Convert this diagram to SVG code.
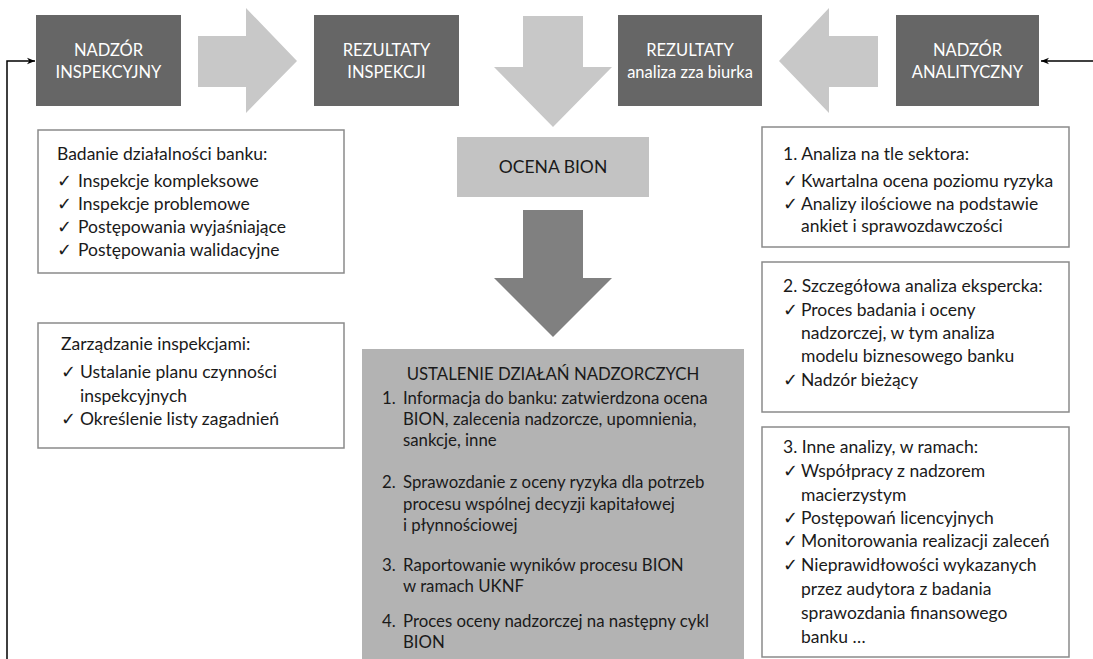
<svg xmlns="http://www.w3.org/2000/svg" width="1093" height="659" viewBox="0 0 1093 659">
<style>
text{font-family:Lato,"Liberation Sans",sans-serif;font-size:17.5px;fill:#1a1a1a}
.top{fill:#666666}
.tt{fill:#ffffff;text-anchor:middle;font-size:16.5px}
.lt{fill:#c8c8c8}
.box{fill:#ffffff;stroke:#8a8a8a;stroke-width:1.5}
.c{text-anchor:middle}
.bt{font-size:16.8px}
.conn{fill:none;stroke:#000;stroke-width:1.5}
</style>
<defs>
<marker id="ah" viewBox="0 0 10 10" refX="10" refY="5" markerWidth="8" markerHeight="8" markerUnits="userSpaceOnUse" orient="auto">
<path d="M0,1 L10,5 L0,9 L3,5 Z" fill="#000"/>
</marker>
</defs>

<g id="arrows">
<polygon class="lt" points="198,36 246,36 246,8 297,61 246,113 246,87 198,87"/>
<polygon class="lt" points="523,16 583,16 583,67 612,67 553,127 494,67 523,67"/>
<polygon class="lt" points="878,36 829,36 829,8 779,61 829,113 829,87 878,87"/>
<polygon fill="#808080" points="523,210 583,210 583,278 612,278 553,337 494,278 523,278"/>
</g>

<g id="connectors">
<polyline class="conn" points="7,659 7,61 35,61" marker-end="url(#ah)"/>
<line class="conn" x1="1093" y1="61" x2="1041" y2="61" marker-end="url(#ah)"/>
</g>

<g id="nadzor-inspekcyjny">
<rect class="top" x="36" y="15" width="145" height="91"/>
<text class="tt" x="108.5" y="56">NADZÓR</text>
<text class="tt" x="108.5" y="78">INSPEKCYJNY</text>
</g>
<g id="rezultaty-inspekcji">
<rect class="top" x="314" y="15" width="145" height="91"/>
<text class="tt" x="386.5" y="56">REZULTATY</text>
<text class="tt" x="386.5" y="78">INSPEKCJI</text>
</g>
<g id="rezultaty-analiza">
<rect class="top" x="618" y="15" width="144" height="91"/>
<text class="tt" x="690" y="56">REZULTATY</text>
<text class="tt" x="690" y="78">analiza zza biurka</text>
</g>
<g id="nadzor-analityczny">
<rect class="top" x="896" y="15" width="143" height="91"/>
<text class="tt" x="967.5" y="56">NADZÓR</text>
<text class="tt" x="967.5" y="78">ANALITYCZNY</text>
</g>

<g id="ocena-bion">
<rect x="457" y="137" width="192" height="60" fill="#c3c3c3"/>
<text class="c" x="553" y="173">OCENA BION</text>
</g>

<g id="badanie">
<rect class="box" x="38" y="130" width="306" height="143"/>
<text x="57" y="160">Badanie działalności banku:</text>
<text x="57" y="187">✓</text><text x="78" y="187">Inspekcje kompleksowe</text>
<text x="57" y="210">✓</text><text x="78" y="210">Inspekcje problemowe</text>
<text x="57" y="233">✓</text><text x="78" y="233">Postępowania wyjaśniające</text>
<text x="57" y="256">✓</text><text x="78" y="256">Postępowania walidacyjne</text>
</g>

<g id="zarzadzanie">
<rect class="box" x="38" y="323" width="306" height="125"/>
<text x="61" y="350">Zarządzanie inspekcjami:</text>
<text x="61" y="378">✓</text><text x="80" y="378">Ustalanie planu czynności</text>
<text x="80" y="402">inspekcyjnych</text>
<text x="61" y="425">✓</text><text x="80" y="425">Określenie listy zagadnień</text>
</g>

<g id="ustalenie" class="bt">
<rect x="362" y="349" width="382" height="310" fill="#b3b3b3"/>
<text class="c bt" x="553" y="380">USTALENIE DZIAŁAŃ  NADZORCZYCH</text>
<text class="bt" x="382" y="404">1.</text><text class="bt" x="403" y="404">Informacja do banku: zatwierdzona ocena</text>
<text class="bt" x="403" y="425">BION, zalecenia nadzorcze, upomnienia,</text>
<text class="bt" x="403" y="446">sankcje, inne</text>
<text class="bt" x="382" y="488">2.</text><text class="bt" x="403" y="488">Sprawozdanie z oceny ryzyka dla potrzeb</text>
<text class="bt" x="403" y="510">procesu wspólnej decyzji kapitałowej</text>
<text class="bt" x="403" y="531">i płynnościowej</text>
<text class="bt" x="382" y="571">3.</text><text class="bt" x="403" y="571">Raportowanie wyników procesu BION</text>
<text class="bt" x="403" y="592">w ramach UKNF</text>
<text class="bt" x="382" y="627">4.</text><text class="bt" x="403" y="627">Proces oceny nadzorczej na następny cykl</text>
<text class="bt" x="403" y="648">BION</text>
</g>

<g id="analiza-sektor">
<rect class="box" x="762" y="127" width="307" height="120"/>
<text x="783" y="160">1. Analiza na tle sektora:</text>
<text x="783" y="187">✓</text><text x="801" y="187">Kwartalna ocena poziomu ryzyka</text>
<text x="783" y="210">✓</text><text x="801" y="210">Analizy ilościowe na podstawie</text>
<text x="801" y="232">ankiet i sprawozdawczości</text>
</g>

<g id="analiza-ekspercka">
<rect class="box" x="762" y="262" width="307" height="150"/>
<text x="783" y="292">2. Szczegółowa analiza ekspercka:</text>
<text x="783" y="316">✓</text><text x="801" y="316">Proces badania i oceny</text>
<text x="801" y="339">nadzorczej, w tym analiza</text>
<text x="801" y="362">modelu biznesowego banku</text>
<text x="783" y="386">✓</text><text x="801" y="386">Nadzór bieżący</text>
</g>

<g id="inne-analizy">
<rect class="box" x="762" y="427" width="307" height="230"/>
<text x="783" y="453">3. Inne analizy, w ramach:</text>
<text x="783" y="477">✓</text><text x="801" y="477">Współpracy z nadzorem</text>
<text x="801" y="501">macierzystym</text>
<text x="783" y="524">✓</text><text x="801" y="524">Postępowań licencyjnych</text>
<text x="783" y="547">✓</text><text x="801" y="547">Monitorowania realizacji zaleceń</text>
<text x="783" y="571">✓</text><text x="801" y="571">Nieprawidłowości wykazanych</text>
<text x="801" y="595">przez audytora z badania</text>
<text x="801" y="619">sprawozdania finansowego</text>
<text x="801" y="643">banku …</text>
</g>
</svg>
